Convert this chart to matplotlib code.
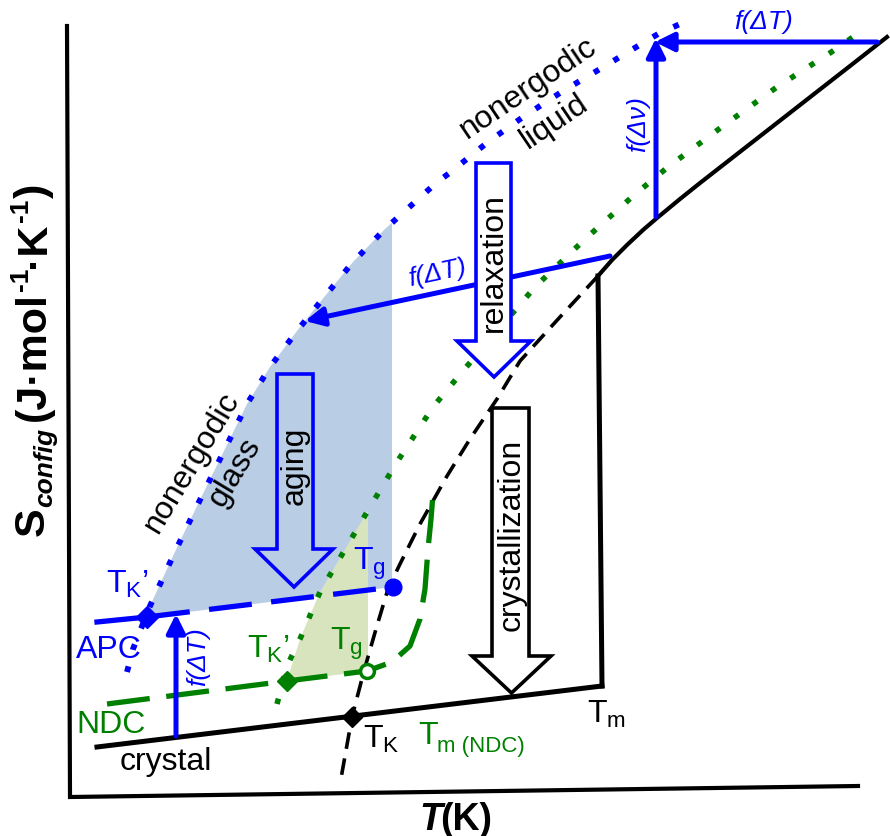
import numpy as np
import matplotlib
matplotlib.use("Agg")
import matplotlib.pyplot as plt
from matplotlib.patches import Polygon

plt.rcParams['font.family'] = ['Liberation Sans', 'DejaVu Sans']
plt.rcParams['mathtext.fontset'] = 'custom'
plt.rcParams['mathtext.rm'] = 'Liberation Sans'
plt.rcParams['mathtext.it'] = 'Liberation Sans:italic'
plt.rcParams['mathtext.bf'] = 'Liberation Sans:bold'
plt.rcParams['lines.scale_dashes'] = False

# ---- schematic data (diagram units, y grows downward) ----
axis_x = [67, 70, 858]
axis_y = [27, 798, 787]

crystal_x = [97, 602]
crystal_y = [748, 687]
melt_x = [602, 598]
melt_y = [687, 277]

liquid_x = [598, 612, 627, 643, 657, 680, 700, 750, 800, 850, 887]
liquid_y = [277, 261, 246, 231, 219, 200, 184, 145, 106, 67, 38]

supercooled_x = [598, 560, 520, 497, 470, 447, 420, 400, 388, 376, 364, 352, 340]
supercooled_y = [277, 318, 362, 400, 440, 477, 525, 565, 590, 630, 672, 718, 785]

nonergodic_x = [127, 133, 150, 173, 197, 222, 247, 270, 297, 325, 353, 385, 435,
                452, 488, 523, 563, 600, 638, 658, 680]
nonergodic_y = [673, 650, 607, 557, 507, 456, 405, 368, 332, 297, 263, 230, 185,
                172, 143, 118, 92, 70, 47, 35, 25]

ndc_liquid_x = [277, 287, 300, 320, 347, 373, 397, 433, 462, 535, 583, 633, 668,
                723, 777, 833, 853]
ndc_liquid_y = [705, 667, 640, 593, 547, 503, 463, 408, 373, 288, 242, 197, 168,
                127, 88, 52, 38]

apc_solid_x = [97, 147]
apc_solid_y = [623, 618]
apc_glass_x = [147, 393]
apc_glass_y = [618, 588]

ndc_glass_x = [107, 287, 367, 392, 410, 420, 425, 428, 431, 433]
ndc_glass_y = [705, 682, 672, 663, 647, 620, 590, 550, 520, 495]

aging_limit_x = 392
ndc_aging_limit_x = 368

# markers
apc_tk = (147, 618)
apc_tg = (393, 588)
ndc_tk = (287, 682)
ndc_tg = (367, 672)
tk = (352, 718)

BLUE = '#0000ff'
GREEN = '#008000'
BLUEFILL = '#b9cde5'
GREENFILL = '#d7e4bd'

fig = plt.figure(figsize=(8.9, 8.37), dpi=100)
ax = fig.add_axes([0, 0, 1, 1])
ax.set_xlim(0, 890)
ax.set_ylim(837, 0)
ax.axis('off')

# ---- shaded regions ----
nx = np.array(nonergodic_x, float)
ny = np.array(nonergodic_y, float)
sel = (nx > apc_tk[0]) & (nx < aging_limit_x)
top_y = np.interp(aging_limit_x, nx, ny)
poly = [apc_tk] + list(zip(nx[sel], ny[sel])) + [(aging_limit_x, top_y),
        (aging_limit_x, np.interp(aging_limit_x, apc_glass_x, apc_glass_y))]
ax.add_patch(Polygon(poly, closed=True, facecolor=BLUEFILL, edgecolor='none', zorder=1))

gx = np.array(ndc_liquid_x, float)
gy = np.array(ndc_liquid_y, float)
sel = (gx > ndc_tk[0]) & (gx < ndc_aging_limit_x)
gtop = np.interp(ndc_aging_limit_x, gx, gy)
poly = [ndc_tk] + list(zip(gx[sel], gy[sel])) + [(ndc_aging_limit_x, gtop),
        (ndc_aging_limit_x, ndc_tg[1])]
ax.add_patch(Polygon(poly, closed=True, facecolor=GREENFILL, edgecolor='none', zorder=1))

# ---- axes lines ----
ax.plot(axis_x, axis_y, color='black', lw=3, solid_joinstyle='miter', zorder=3)

# ---- curves ----
ax.plot(crystal_x, crystal_y, color='black', lw=3.6, zorder=4)
ax.plot(melt_x, melt_y, color='black', lw=3.6, zorder=4)
ax.plot(liquid_x, liquid_y, color='black', lw=3, zorder=4)
ax.plot(supercooled_x, supercooled_y, color='black', lw=2.6, dashes=(12, 7),
        dash_capstyle='butt', zorder=4)
ax.plot(nonergodic_x, nonergodic_y, color=BLUE, lw=4.2, dashes=(4.2, 12.3),
        dash_capstyle='butt', zorder=4)
ax.plot(ndc_liquid_x, ndc_liquid_y, color=GREEN, lw=4.0, dashes=(4.0, 12.5),
        dash_capstyle='butt', zorder=4)
ax.plot(apc_solid_x, apc_solid_y, color=BLUE, lw=3.8, zorder=5)
ax.plot(apc_glass_x, apc_glass_y, color=BLUE, lw=3.8, dashes=(31, 14),
        dash_capstyle='butt', zorder=5)
ax.plot(ndc_glass_x, ndc_glass_y, color=GREEN, lw=3.8, dashes=(31, 12),
        dash_capstyle='butt', zorder=5)

# ---- markers ----
ax.plot(*apc_tk, marker='D', ms=11, color=BLUE, zorder=7)
ax.plot(*apc_tg, marker='o', ms=12, color=BLUE, zorder=7)
ax.plot(*ndc_tk, marker='D', ms=10, color=GREEN, zorder=7)
ax.plot(*ndc_tg, marker='o', ms=10, mfc='white', mec=GREEN, mew=2.5, zorder=7)
ax.plot(*tk, marker='D', ms=10, color='black', zorder=7)

# ---- thin arrows ----
def arrow(start, tip, color=BLUE, lw=3.6):
    ax.annotate('', xy=tip, xytext=start,
                arrowprops=dict(arrowstyle='-|>', lw=lw, color=color,
                                mutation_scale=28, shrinkA=0, shrinkB=0),
                zorder=6)

arrow((877, 43), (655, 43))
arrow((656, 218), (656, 39))
arrow((610, 257), (305, 322))
arrow((176, 737), (176, 615))

# ---- block arrows ----
def block_arrow(x0, x1, top, head_y, hx0, hx1, tip_y, edge, face):
    xc = (hx0 + hx1) / 2
    pts = [(x0, top), (x1, top), (x1, head_y), (hx1, head_y), (xc, tip_y),
           (hx0, head_y), (x0, head_y)]
    ax.add_patch(Polygon(pts, closed=True, facecolor=face, edgecolor=edge,
                         lw=2.6, joinstyle='miter', zorder=8))

block_arrow(277, 313, 375, 550, 255, 333, 588, BLUE, 'none')
block_arrow(476, 511, 164, 342, 457, 531, 378, BLUE, 'white')
block_arrow(492, 529, 409, 657, 472, 551, 694, 'black', 'white')

# ---- text ----
FS = 23
ax.text(295, 466, 'aging', rotation=90, fontsize=FS, ha='center', va='center', zorder=9)
ax.text(494, 262, 'relaxation', rotation=90, fontsize=FS, ha='center', va='center', zorder=9)
ax.text(512, 535, 'crystallization', rotation=90, fontsize=FS, ha='center', va='center', zorder=9)

ax.text(528, 88, 'nonergodic', rotation=34, fontsize=FS, ha='center', va='center', zorder=9)
ax.text(554, 122, 'liquid', rotation=34, fontsize=FS, ha='center', va='center', zorder=9)
ax.text(192, 462, 'nonergodic', rotation=59, fontsize=FS, ha='center', va='center', zorder=9)
ax.text(235, 472, 'glass', rotation=59, fontsize=FS, ha='center', va='center', zorder=9)

ax.text(763, 22, 'f(ΔT)', color=BLUE, style='italic', fontsize=19, ha='center', va='center', zorder=9)
ax.text(638, 124, 'f(Δν)', color=BLUE, style='italic', fontsize=19, rotation=90,
        ha='center', va='center', zorder=9)
ax.text(437, 273, 'f(ΔT)', color=BLUE, style='italic', fontsize=19, rotation=12,
        ha='center', va='center', zorder=9)
ax.text(198, 657, 'f(ΔT)', color=BLUE, style='italic', fontsize=19, rotation=90,
        ha='center', va='center', zorder=9)

ax.text(106, 593, r"T$_{\mathrm{K}}$’", color=BLUE, fontsize=FS, ha='left', va='baseline', zorder=9)
ax.text(76, 658, 'APC', color=BLUE, fontsize=FS, ha='left', va='baseline', zorder=9)
ax.text(353, 570, r"T$_{\mathrm{g}}$", color=BLUE, fontsize=FS, ha='left', va='baseline', zorder=9)
ax.text(247, 658, r"T$_{\mathrm{K}}$’", color=GREEN, fontsize=FS, ha='left', va='baseline', zorder=9)
ax.text(330, 650, r"T$_{\mathrm{g}}$", color=GREEN, fontsize=FS, ha='left', va='baseline', zorder=9)
ax.text(76, 733, 'NDC', color=GREEN, fontsize=FS, ha='left', va='baseline', zorder=9)
ax.text(120, 770, 'crystal', color='black', fontsize=FS, ha='left', va='baseline', zorder=9)
ax.text(363, 748, r"T$_{\mathrm{K}}$", color='black', fontsize=FS, ha='left', va='baseline', zorder=9)
ax.text(418, 744, 'T', color=GREEN, fontsize=FS, ha='left', va='baseline', zorder=9)
ax.text(437, 752, 'm (NDC)', color=GREEN, fontsize=16, ha='left', va='baseline', zorder=9)
ax.text(587, 723, r"T$_{\mathrm{m}}$", color='black', fontsize=FS, ha='left', va='baseline', zorder=9)

# x label
ax.text(442, 830, 'T', fontsize=27, fontweight='bold', style='italic', ha='right',
        va='baseline', zorder=9)
ax.text(440, 830, '(K)', fontsize=27, fontweight='bold', ha='left', va='baseline', zorder=9)

# y label, built piece by piece (rotated, reading bottom to top)
fig.canvas.draw()
r = fig.canvas.get_renderer()
inv = ax.transData.inverted()

def vtext(x, y, s, fs, **kw):
    return ax.text(x, y, s, fontsize=fs, fontweight='bold', rotation=90,
                   rotation_mode='anchor', ha='left', va='baseline', zorder=9, **kw)

def next_y(t, gap=0):
    bb = t.get_window_extent(renderer=r)
    return inv.transform((bb.x0, bb.y1))[1] - gap

t = vtext(44, 536, 'S', 31)
t = vtext(52, next_y(t), 'config', 19, style='italic')
t = vtext(45, next_y(t, 7), '(J·mol', 31)
t = vtext(28, next_y(t, 1), '-1', 19)
t = vtext(45, next_y(t), '·K', 31)
t = vtext(28, next_y(t, 1), '-1', 19)
t = vtext(45, next_y(t), ')', 31)

fig.savefig('out.png', dpi=100)
